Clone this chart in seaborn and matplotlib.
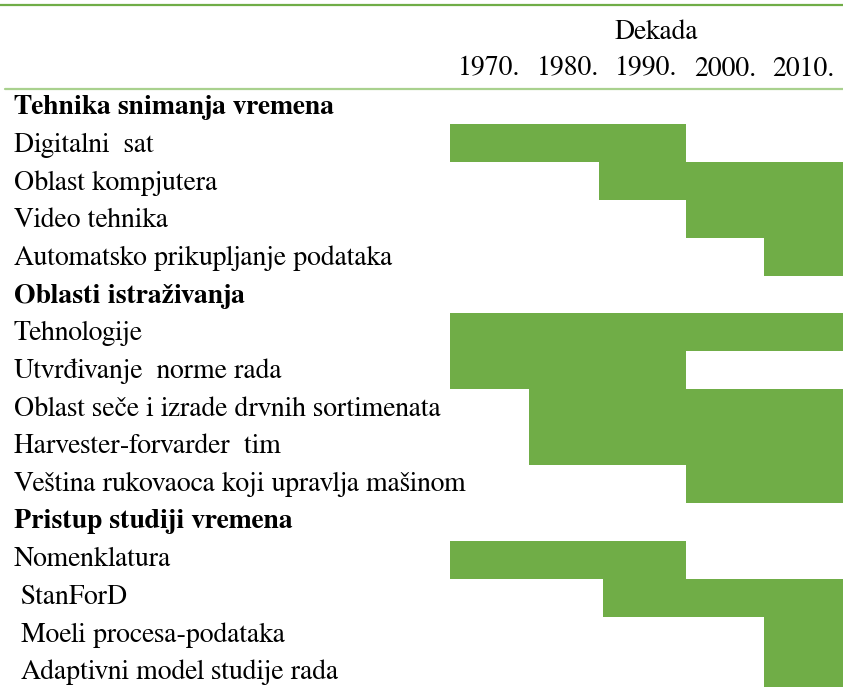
import matplotlib
matplotlib.use("Agg")
import matplotlib.pyplot as plt
import matplotlib.transforms as mtransforms
from matplotlib.lines import Line2D
import numpy as np
import pandas as pd
import seaborn as sns

# rows of the table, headers have no bar
stavke = [
    "Tehnika snimanja vremena",
    "Digitalni  sat",
    "Oblast kompjutera",
    "Video tehnika",
    "Automatsko prikupljanje podataka",
    "Oblasti istraživanja",
    "Tehnologije",
    "Utvrđivanje  norme rada",
    "Oblast seče i izrade drvnih sortimenata",
    "Harvester-forvarder  tim",
    "Veština rukovaoca koji upravlja mašinom",
    "Pristup studiji vremena",
    "Nomenklatura",
    " StanForD",
    " Moeli procesa-podataka",
    " Adaptivni model studije rada",
]
naslovi = {"Tehnika snimanja vremena", "Oblasti istraživanja", "Pristup studiji vremena"}

pocetak = [np.nan, 1965, 1984, 1995, 2005, np.nan, 1965, 1965, 1975, 1975, 1995,
           np.nan, 1965, 1984.5, 2005, 2005]
kraj = [np.nan, 1995, 2015, 2015, 2015, np.nan, 2015, 1995, 2015, 2015, 2015,
        np.nan, 1995, 2015, 2015, 2015]

dekade = [1970, 1980, 1990, 2000, 2010]
dekade_oznake = ["1970.", "1980.", "1990.", "2000.", "2010."]

ZELENA = "#70ad47"
SVETLO_ZELENA = "#a9d18e"


def main() -> None:
    sns.set_style("white")
    plt.rcParams["font.family"] = ["FreeSerif", "Liberation Serif", "DejaVu Serif"]
    plt.rcParams["text.color"] = "black"
    plt.rcParams["xtick.color"] = "black"

    W, H = 843, 687
    fig = plt.figure(figsize=(W / 100, H / 100), dpi=100)
    top_px, row_px = 86, 37.9
    ax = fig.add_axes([450 / W, 0, 1 - 450 / W, 1 - top_px / H])

    df = pd.DataFrame({"stavka": stavke, "pocetak": pocetak, "kraj": kraj})
    sns.barplot(data=df, x="kraj", y="stavka", order=stavke, orient="h",
                color=ZELENA, saturation=1, width=1.0, errorbar=None,
                linewidth=0, ax=ax)

    # turn the 0..end bars into start..end spans
    for patch in ax.patches:
        idx = int(round(patch.get_y() + patch.get_height() / 2))
        start, end = pocetak[idx], kraj[idx]
        if np.isnan(start):
            patch.set_visible(False)
            continue
        patch.set_x(start)
        patch.set_width(end - start)

    n_vis = (H - top_px) / row_px
    ax.set_xlim(1965, 2015)
    ax.set_ylim(-0.5 + n_vis, -0.5)
    for sp in ax.spines.values():
        sp.set_visible(False)
    ax.set_xlabel("")
    ax.set_ylabel("")
    ax.set_yticks([])

    ax.xaxis.tick_top()
    ax.set_xticks(dekade)
    ax.set_xticklabels(dekade_oznake, fontsize=20)
    ax.tick_params(axis="x", length=0, pad=3)

    ax.text(1991.2, 1 + 57 / (H - top_px), "Dekada", transform=ax.get_xaxis_transform(),
            ha="center", va="center_baseline", fontsize=20)

    trans = mtransforms.blended_transform_factory(fig.transFigure, ax.transData)
    for i, s in enumerate(stavke):
        ax.text(14 / W, i - 0.007 * i, s, transform=trans, ha="left", va="center_baseline",
                fontsize=20, fontweight="bold" if s in naslovi else "normal",
                clip_on=False)

    fig.add_artist(Line2D([0, 1], [1 - 4.5 / H, 1 - 4.5 / H], color=ZELENA, lw=1.6,
                          transform=fig.transFigure))
    fig.add_artist(Line2D([5 / W, 1], [1 - 88.5 / H, 1 - 88.5 / H], color=SVETLO_ZELENA, lw=1.6,
                          transform=fig.transFigure))

    fig.savefig("out.png", dpi=100)
    plt.close(fig)


if __name__ == "__main__":
    main()
